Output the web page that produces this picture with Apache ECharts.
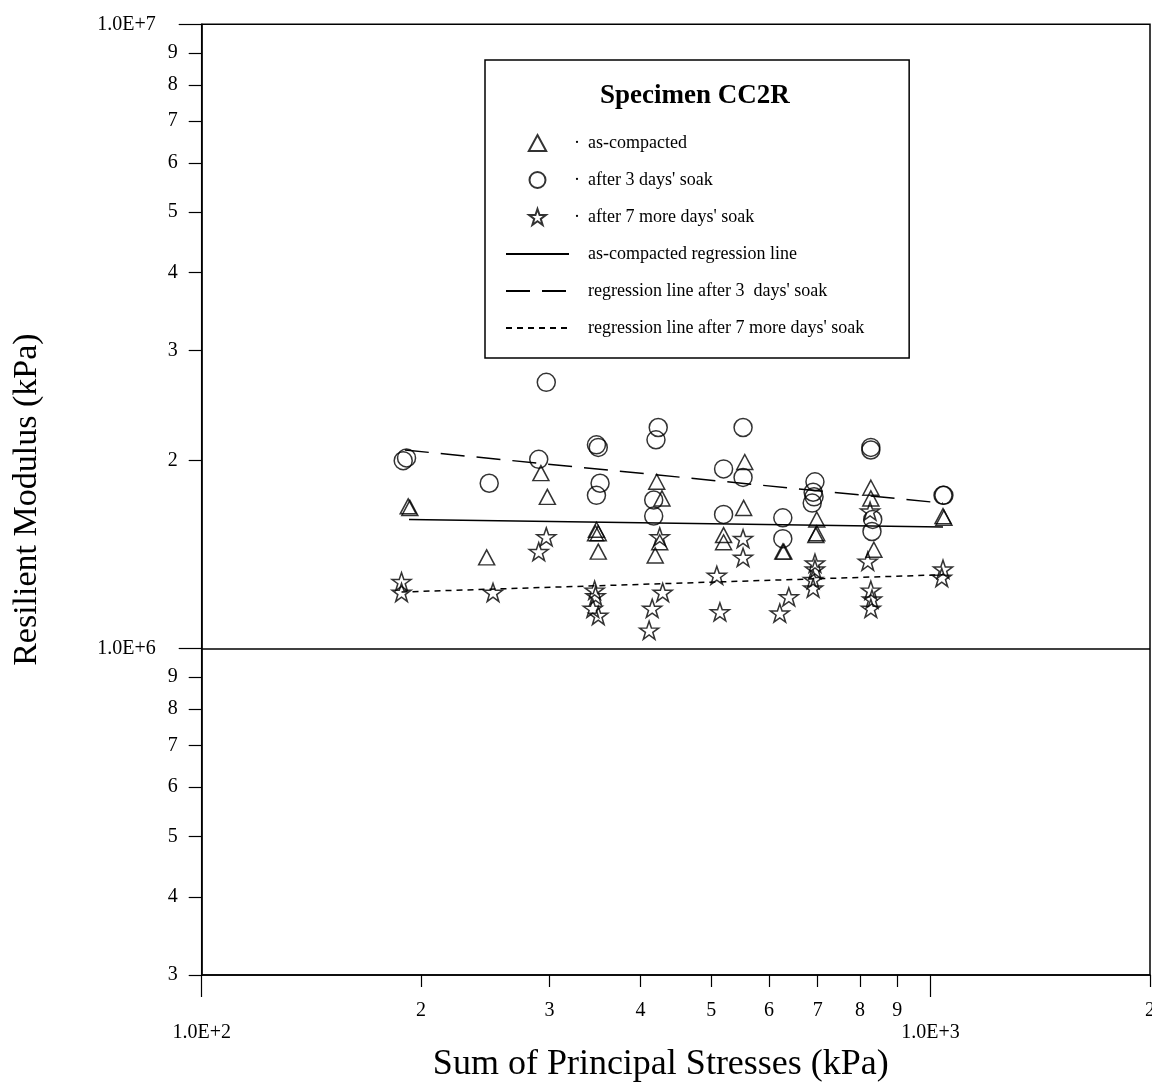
<!DOCTYPE html>
<html>
<head>
<meta charset="utf-8">
<script src="https://cdn.jsdelivr.net/npm/echarts@6/dist/echarts.min.js"></script>
<style>
html,body{margin:0;padding:0;background:#fff;overflow:hidden;width:1152px;height:1083px;}
#chart{display:block;width:1152px;height:1083px;}
</style>
</head>
<body>
<div id="chart"></div>
<script>
// ---- data ----
const asCompacted = [[192,1.69e6],[193,1.68e6],[246,1.40e6],[292,1.91e6],[298,1.75e6],[348,1.55e6],[350,1.53e6],[347,1.53e6],[350,1.43e6],[421,1.85e6],[428,1.74e6],[425,1.48e6],[419,1.41e6],[556,1.99e6],[554,1.68e6],[520,1.52e6],[520,1.48e6],[627,1.43e6],[629,1.43e6],[698,1.61e6],[698,1.53e6],[696,1.52e6],[828,1.81e6],[828,1.74e6],[836,1.44e6],[1040,1.63e6],[1043,1.62e6]];
const after3Days = [[189,2.00e6],[191,2.02e6],[297,2.67e6],[248,1.84e6],[290,2.01e6],[348,2.12e6],[350,2.10e6],[352,1.84e6],[348,1.76e6],[423,2.26e6],[420,2.16e6],[417,1.73e6],[417,1.63e6],[553,2.26e6],[553,1.88e6],[520,1.94e6],[520,1.64e6],[627,1.62e6],[627,1.50e6],[694,1.85e6],[690,1.78e6],[688,1.71e6],[692,1.75e6],[828,2.10e6],[828,2.08e6],[833,1.61e6],[831,1.54e6],[1040,1.76e6],[1043,1.76e6]];
const after7More = [[188,1.28e6],[188,1.23e6],[251,1.23e6],[297,1.51e6],[290,1.43e6],[346,1.24e6],[347,1.215e6],[344,1.16e6],[350,1.13e6],[429,1.23e6],[415,1.16e6],[411,1.07e6],[425,1.51e6],[509,1.31e6],[514,1.145e6],[553,1.50e6],[553,1.40e6],[639,1.21e6],[621,1.14e6],[694,1.37e6],[694,1.34e6],[690,1.29e6],[690,1.25e6],[826,1.66e6],[820,1.38e6],[828,1.24e6],[831,1.20e6],[828,1.16e6],[1040,1.34e6],[1036,1.30e6]];
const regAsCompacted = [[192.5,1.61e6],[1040,1.566e6]];
const regAfter3 = [[190,2.08e6],[1040,1.71e6]];
const regAfter7 = [[188,1.232e6],[1040,1.313e6]];

const seriesNames = ['as-compacted', "after 3 days' soak", "after 7 more days' soak",
  'as-compacted regression line', "regression line after 3  days' soak", "regression line after 7 more days' soak"];

const stressTicksMinor = [200,300,400,500,600,700,800,900,2000];
const stressLabelsMinor = ['2','3','4','5','6','7','8','9','2'];
const stressTicksMajor = [100,1000];
const stressLabelsMajor = ['1.0E+2','1.0E+3'];
const modTicksMinor = [3e5,4e5,5e5,6e5,7e5,8e5,9e5,2e6,3e6,4e6,5e6,6e6,7e6,8e6,9e6];
const modLabelsMinor = ['3','4','5','6','7','8','9','2','3','4','5','6','7','8','9'];
const modTicksMajor = [1e6,1e7];
const modLabelsMajor = ['1.0E+6','1.0E+7'];
const xRange = [100, 2000];
const yRange = [3e5, 1e7];

// ---- chart ----
const FONT = 'Liberation Serif';
const starPath = 'path://M50,0L61.8,35.1L98.1,35.1L68.7,56.8L79.4,91.9L50,70.2L20.6,91.9L31.3,56.8L1.9,35.1L38.2,35.1Z';
const triPath = 'path://M50,0L100,92L0,92Z';
const lg = v => Math.log10(v);
function labelFor(ticks, labels) {
  return function (v) {
    for (let i = 0; i < ticks.length; i++) if (Math.abs(lg(ticks[i]) - v) < 1e-6) return labels[i];
    return '';
  };
}
const hollow = {color: 'rgba(0,0,0,0)', borderColor: '#000', borderWidth: 1.5};
const noSym = {color: 'rgba(0,0,0,0)', borderColor: 'rgba(0,0,0,0)', borderWidth: 0};
const tickLabelStyle = {fontFamily: FONT, fontSize: 20, color: '#000'};

function overlayX(ticks, labels, len, margin) {
  return {
    type: 'value', gridIndex: 0, position: 'bottom', min: lg(xRange[0]), max: lg(xRange[1]),
    axisLine: {show: false},
    axisTick: {show: true, inside: false, length: len, customValues: ticks.map(lg), lineStyle: {color: '#000', width: 1.2}},
    axisLabel: Object.assign({show: true, margin: margin, customValues: ticks.map(lg), formatter: labelFor(ticks, labels)}, tickLabelStyle),
    splitLine: {show: false}
  };
}
function overlayY(ticks, labels, len, margin) {
  return {
    type: 'value', gridIndex: 0, position: 'left', min: lg(yRange[0]), max: lg(yRange[1]),
    axisLine: {show: false},
    axisTick: {show: true, inside: false, length: len, customValues: ticks.map(lg), lineStyle: {color: '#000', width: 1.2}},
    axisLabel: Object.assign({show: true, margin: margin, customValues: ticks.map(lg), formatter: labelFor(ticks, labels)}, tickLabelStyle),
    splitLine: {show: false}
  };
}

const chart = echarts.init(document.getElementById('chart'), null, {renderer: 'canvas', width: 1152, height: 1083});
const option = {
  animation: false,
  backgroundColor: '#fff',
  title: {
    text: 'Specimen CC2R', left: 600, top: 83, padding: 0,
    textStyle: {fontFamily: FONT, fontSize: 27, fontWeight: 'bold', color: '#000'}
  },
  legend: {
    orient: 'vertical', left: 485, top: 60,
    padding: [74, 45, 21, 20],
    borderColor: '#000', borderWidth: 1.5,
    itemWidth: 63, itemHeight: 16, itemGap: 19,
    symbolKeepAspect: true,
    selectedMode: false,
    data: seriesNames,
    formatter: function (name) {
      const dot = seriesNames.indexOf(name) < 3 ? '·' : ' ';
      return '{d|' + dot + '}{t|' + name + '}';
    },
    textStyle: {
      fontFamily: FONT, fontSize: 18, color: '#000', lineHeight: 18,
      rich: {
        d: {width: 14, align: 'left', fontFamily: FONT, fontSize: 18, lineHeight: 18, color: '#000'},
        t: {fontFamily: FONT, fontSize: 18, lineHeight: 18, color: '#000'}
      }
    }
  },
  grid: {
    left: 201.7, top: 24.3, right: 2, bottom: 108,
    outerBoundsMode: 'none', containLabel: false,
    show: true, borderColor: '#000', borderWidth: 1.5, backgroundColor: '#fff'
  },
  xAxis: [
    {
      type: 'log', logBase: 10, min: xRange[0], max: xRange[1], gridIndex: 0, position: 'bottom',
      axisLine: {show: true, lineStyle: {color: '#000', width: 1.5}},
      axisTick: {show: false}, axisLabel: {show: false}, splitLine: {show: false},
      name: 'Sum of Principal Stresses (kPa)', nameLocation: 'middle', nameGap: 72,
      nameTextStyle: {fontFamily: FONT, fontSize: 36, color: '#000', padding: [0, 30, 0, 0]}
    },
    overlayX(stressTicksMinor, stressLabelsMinor, 12, 26),
    overlayX(stressTicksMajor, stressLabelsMajor, 22, 48)
  ],
  yAxis: [
    {
      type: 'log', logBase: 10, min: yRange[0], max: yRange[1], gridIndex: 0, position: 'left',
      axisLine: {show: true, lineStyle: {color: '#000', width: 1.5}},
      axisTick: {show: false}, axisLabel: {show: false}, splitLine: {show: false},
      name: 'Resilient Modulus (kPa)', nameLocation: 'middle', nameGap: 158,
      nameTextStyle: {fontFamily: FONT, fontSize: 34, color: '#000'}
    },
    overlayY(modTicksMinor, modLabelsMinor, 13, 24),
    overlayY(modTicksMajor, modLabelsMajor, 23, 46)
  ],
  series: [
    {name: seriesNames[0], type: 'scatter', xAxisIndex: 0, yAxisIndex: 0, data: asCompacted,
     symbol: triPath, symbolSize: [16, 15], itemStyle: hollow, z: 5,
     markLine: {silent: true, symbol: 'none', label: {show: false},
       lineStyle: {color: '#000', width: 1.5, type: 'solid'}, data: [{yAxis: modTicksMajor[0]}]}},
    {name: seriesNames[1], type: 'scatter', xAxisIndex: 0, yAxisIndex: 0, data: after3Days,
     symbol: 'circle', symbolSize: 18, itemStyle: hollow, z: 5},
    {name: seriesNames[2], type: 'scatter', xAxisIndex: 0, yAxisIndex: 0, data: after7More,
     symbol: starPath, symbolSize: [19, 18], itemStyle: hollow, z: 5},
    {name: seriesNames[3], type: 'line', xAxisIndex: 0, yAxisIndex: 0, data: regAsCompacted,
     symbol: 'none', itemStyle: noSym, lineStyle: {color: '#000', width: 1.5, type: 'solid'}, z: 4},
    {name: seriesNames[4], type: 'line', xAxisIndex: 0, yAxisIndex: 0, data: regAfter3,
     symbol: 'none', itemStyle: noSym, lineStyle: {color: '#000', width: 1.5, type: [24, 12]}, z: 4},
    {name: seriesNames[5], type: 'line', xAxisIndex: 0, yAxisIndex: 0, data: regAfter7,
     symbol: 'none', itemStyle: noSym, lineStyle: {color: '#000', width: 1.5, type: [6, 5]}, z: 4}
  ]
};
chart.setOption(option);
</script>
</body>
</html>
